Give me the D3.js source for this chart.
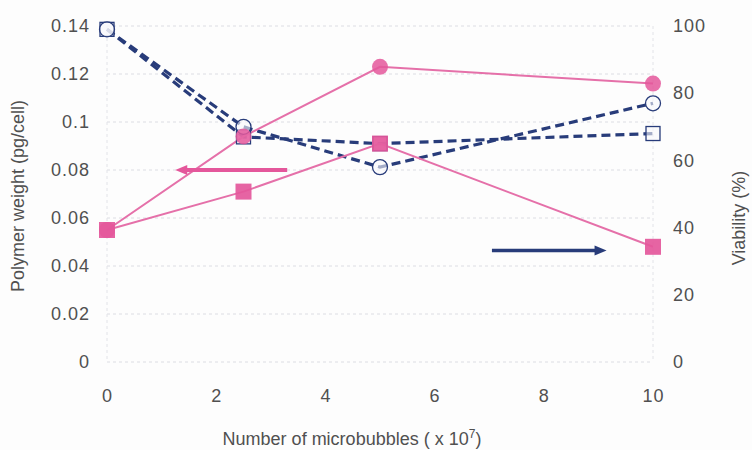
<!DOCTYPE html>
<html>
<head>
<meta charset="utf-8">
<script src="https://cdn.jsdelivr.net/npm/d3@7"></script>
<style>
  html, body { margin: 0; padding: 0; background: #fdfdfd; }
  svg { display: block; font-family: "Liberation Sans", Arial, sans-serif; }
</style>
</head>
<body>
<svg id="chart" width="752" height="450"></svg>
<script>
// Microbubble count (x 10^7)
const microbubbles = [0, 2.5, 5, 10];

// Polymer weight per cell (pg/cell), left axis
const polymerCircle = [0.055, 0.094, 0.123, 0.116];
const polymerSquare = [0.055, 0.071, 0.091, 0.048];

// Cell viability (%), right axis
const viabilityCircle = [99, 70, 58, 77];
const viabilitySquare = [99, 67, 65, 68];

const xTicks = [0, 2, 4, 6, 8, 10];
const leftTicks = [0, 0.02, 0.04, 0.06, 0.08, 0.1, 0.12, 0.14];
const rightTicks = [0, 20, 40, 60, 80, 100];

const pink = "#e4579b";
const pinkLine = "#e570a9";
const navy = "#283c7a";
const textColor = "#505050";

const svg = d3.select("#chart");
const m = { left: 107, right: 653, top: 26, bottom: 362 };

const x = d3.scaleLinear().domain([0, 10]).range([m.left, m.right]);
const yL = d3.scaleLinear().domain([0, 0.14]).range([m.bottom, m.top]);
const yR = d3.scaleLinear().domain([0, 100]).range([m.bottom, m.top]);

// Gridlines
const grid = svg.append("g");
grid.selectAll("line.h").data(leftTicks).join("line")
  .attr("x1", m.left).attr("x2", m.right)
  .attr("y1", d => yL(d)).attr("y2", d => yL(d))
  .attr("stroke", "#dcdde3").attr("stroke-width", 1)
  .attr("stroke-dasharray", "3,3");
grid.selectAll("line.v").data([0, 10]).join("line")
  .attr("x1", d => x(d)).attr("x2", d => x(d))
  .attr("y1", m.top).attr("y2", m.bottom)
  .attr("stroke", "#e2e3e8").attr("stroke-width", 1)
  .attr("stroke-dasharray", "3,3");

// Axes (labels only, no domain lines)
const fmtL = d => d === 0 ? "0" : String(+d.toFixed(2));
const axL = svg.append("g").attr("transform", `translate(${m.left - 14},0)`)
  .call(d3.axisLeft(yL).tickValues(leftTicks).tickSize(0).tickFormat(fmtL));
const axR = svg.append("g").attr("transform", `translate(${m.right + 17},0)`)
  .call(d3.axisRight(yR).tickValues(rightTicks).tickSize(0));
const axX = svg.append("g").attr("transform", `translate(0,${m.bottom + 22})`)
  .call(d3.axisBottom(x).tickValues(xTicks).tickSize(0));
[axL, axR, axX].forEach(a => {
  a.select(".domain").remove();
  a.selectAll("text").attr("fill", textColor).style("font-size", "18px")
    .style("letter-spacing", "1px")
    .style("font-family", "'Liberation Sans', Arial, sans-serif");
});
axL.selectAll("text").attr("dx", 0);
axR.selectAll("text").attr("dx", 0);
axX.selectAll("text").attr("dy", "0.85em");

// Axis titles
svg.append("text")
  .attr("transform", `translate(24,196) rotate(-90)`)
  .attr("text-anchor", "middle").attr("fill", textColor)
  .style("font-size", "18px").text("Polymer weight (pg/cell)");
svg.append("text")
  .attr("transform", `translate(745,218) rotate(-90)`)
  .attr("text-anchor", "middle").attr("fill", textColor)
  .style("font-size", "18px").text("Viability (%)");
const xt = svg.append("text")
  .attr("x", 352).attr("y", 445)
  .attr("text-anchor", "middle").attr("fill", textColor)
  .style("font-size", "18px");
xt.append("tspan").text("Number of microbubbles ( x 10");
xt.append("tspan").attr("dy", -7).style("font-size", "12px").text("7");
xt.append("tspan").attr("dy", 7).text(")");

// Lines
const lineL = d3.line().x((d, i) => x(microbubbles[i])).y(d => yL(d));
const lineR = d3.line().x((d, i) => x(microbubbles[i])).y(d => yR(d));

function dashed(data) {
  svg.append("path").datum(data).attr("d", lineR)
    .attr("fill", "none").attr("stroke", navy).attr("stroke-width", 3.2)
    .attr("stroke-dasharray", "9,5");
}
function solid(data) {
  svg.append("path").datum(data).attr("d", lineL)
    .attr("fill", "none").attr("stroke", pinkLine).attr("stroke-width", 2);
}

dashed(viabilitySquare);
dashed(viabilityCircle);
solid(polymerSquare);
solid(polymerCircle);

// Markers
svg.append("g").selectAll("rect").data(viabilitySquare).join("rect")
  .attr("x", (d, i) => x(microbubbles[i]) - 7).attr("y", d => yR(d) - 7)
  .attr("width", 14).attr("height", 14)
  .attr("fill", "#f8f9fc").attr("fill-opacity", 0.6)
  .attr("stroke", navy).attr("stroke-width", 1.3);
svg.append("g").selectAll("circle").data(viabilityCircle).join("circle")
  .attr("cx", (d, i) => x(microbubbles[i])).attr("cy", d => yR(d)).attr("r", 7.5)
  .attr("fill", "#f8f9fc").attr("fill-opacity", 0.6)
  .attr("stroke", navy).attr("stroke-width", 1.3);
svg.append("g").selectAll("rect").data(polymerSquare).join("rect")
  .attr("x", (d, i) => x(microbubbles[i]) - 8).attr("y", d => yL(d) - 8)
  .attr("width", 16).attr("height", 16)
  .attr("fill", pink).attr("fill-opacity", 0.92);
svg.append("g").selectAll("circle").data(polymerCircle).join("circle")
  .attr("cx", (d, i) => x(microbubbles[i])).attr("cy", d => yL(d)).attr("r", 8)
  .attr("fill", pink).attr("fill-opacity", 0.85);

// Direction arrows pointing to each series' axis
function arrow(x1, x2, y, color, w) {
  const dir = Math.sign(x2 - x1);
  svg.append("line").attr("x1", x1).attr("x2", x2 - dir * 10)
    .attr("y1", y).attr("y2", y).attr("stroke", color).attr("stroke-width", w);
  svg.append("path")
    .attr("d", `M${x2},${y} L${x2 - dir * 12},${y - 5} L${x2 - dir * 12},${y + 5} Z`)
    .attr("fill", color);
}
arrow(x(3.3), x(1.25), yL(0.08), pink, 4);
arrow(x(7.05), x(9.15), yL(0.0465), navy, 3.5);
</script>
</body>
</html>
